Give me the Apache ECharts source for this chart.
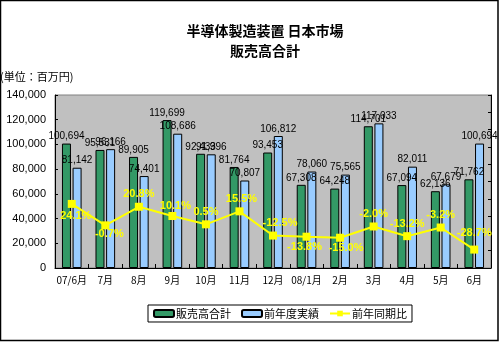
<!DOCTYPE html>
<html>
<head>
<meta charset="utf-8">
<script src="https://cdn.jsdelivr.net/npm/echarts@6/dist/echarts.min.js"></script>
<style>
html,body{margin:0;padding:0;background:#fff;}
#c{width:500px;height:342px;}
</style>
</head>
<body>
<div id="c"></div>
<script>
const categories = ['07/6月','7月','8月','9月','10月','11月','12月','08/1月','2月','3月','4月','5月','6月'];
const salesTotal = [100694, 95531, 89905, 119699, 92433, 81764, 93453, 67308, 64248, 114701, 67094, 62136, 71762];
const prevYear = [81142, 96166, 74401, 108686, 91996, 70807, 106812, 78060, 75565, 117033, 82011, 67679, 100694];
const yoyPct = [24.1, -0.7, 20.8, 10.1, 0.5, 15.5, -12.5, -13.8, -15.0, -2.0, -13.2, -3.2, -28.7];
const leftTicks = [0, 20000, 40000, 60000, 80000, 100000, 120000, 140000];

// label placement for the percentage labels (style only)
const pctLabelPos = ['bottom','bottom','top','top','top','top','top','bottom','bottom','top','top','top','top'];
const pctLabelOffset = [[4,0],[4,-4],[0,0],[3,2],[0,0],[2,0],[7,0],[-2,-2],[6,-2],[0,0],[0,0],[0,0],[0,-4]];

const FONT = "'Liberation Sans', 'Noto Sans CJK JP', sans-serif";
const JFONT = "'Noto Sans CJK JP', sans-serif";

const chart = echarts.init(document.getElementById('c'), null, {renderer:'canvas'});

const barLabel = {
  show: true, position: 'top', distance: 2,
  fontSize: 10, color: '#000', fontFamily: FONT,
  formatter: p => p.value.toLocaleString('en-US')
};

chart.setOption({
  animation: false,
  backgroundColor: '#fff',
  graphic: [
    {type:'rect', shape:{x:0.5,y:0.5,width:497.5,height:340}, style:{fill:'none', stroke:'#000', lineWidth:1.5}, z:100},
    {type:'text', x:265, y:24, style:{text:'半導体製造装置 日本市場', fontSize:14, fontWeight:'bold', fontFamily:JFONT, fill:'#000', textAlign:'center'}},
    {type:'text', x:265, y:44, style:{text:'販売高合計', fontSize:14, fontWeight:'bold', fontFamily:JFONT, fill:'#000', textAlign:'center'}},
    {type:'text', x:0, y:71, style:{text:'(単位：百万円)', fontSize:11, fontFamily:JFONT, fill:'#000'}}
  ],
  grid: {left:55, right:9, top:95, bottom:74, show:true, backgroundColor:'#c0c0c0', borderColor:'#808080', borderWidth:1, containLabel:false},
  legend: {
    left:148, top:305, width:264,
    padding:[3,5,3,5], itemGap:10,
    itemWidth:20, itemHeight:7,
    borderColor:'#000', borderWidth:1, backgroundColor:'#fff',
    textStyle:{fontSize:11, fontFamily:JFONT, color:'#000', padding:[0,0,0,-3]},
    data:['販売高合計','前年度実績','前年同期比']
  },
  xAxis: {
    type:'category', data:categories,
    axisLine:{lineStyle:{color:'#000', width:1}},
    axisTick:{show:true, inside:true, length:4, lineStyle:{color:'#000'}},
    axisLabel:{interval:0, fontSize:10, color:'#000', fontFamily:JFONT, margin:7}
  },
  yAxis: [
    {
      type:'value', min:leftTicks[0], max:leftTicks[leftTicks.length-1], interval:leftTicks[1]-leftTicks[0],
      axisLine:{show:true, lineStyle:{color:'#000'}},
      axisTick:{show:true, inside:true, length:3, lineStyle:{color:'#000'}},
      splitLine:{show:false},
      axisLabel:{fontSize:11, color:'#000', fontFamily:FONT, margin:9, formatter:v=>v.toLocaleString('en-US')}
    },
    {
      type:'value', min:-50, max:150, interval:20, position:'right',
      axisLine:{show:true, lineStyle:{color:'#000'}},
      axisTick:{show:true, inside:true, length:3, lineStyle:{color:'#000'}},
      splitLine:{show:false},
      axisLabel:{show:false}
    }
  ],
  series: [
    {
      name:'販売高合計', type:'bar', data:salesTotal, yAxisIndex:0,
      barWidth:9, barGap:'18%',
      itemStyle:{color:'#339966', borderColor:'#000', borderWidth:1},
      label:barLabel
    },
    {
      name:'前年度実績', type:'bar', data:prevYear, yAxisIndex:0,
      barWidth:9, barGap:'18%',
      itemStyle:{color:'#99ccff', borderColor:'#000', borderWidth:1},
      label:barLabel
    },
    {
      name:'前年同期比', type:'line', yAxisIndex:1, z:10,
      data: yoyPct.map((v,i)=>({value:v, label:{position:pctLabelPos[i], offset:pctLabelOffset[i]}})),
      symbol:'rect', symbolSize:8,
      lineStyle:{color:'#ffff00', width:2},
      itemStyle:{color:'#ffff00'},
      label:{show:true, fontSize:11, fontWeight:'bold', color:'#ffff00', fontFamily:FONT, distance:3,
        formatter:p=>p.value.toFixed(1)+'%'}
    }
  ]
});
</script>
</body>
</html>
